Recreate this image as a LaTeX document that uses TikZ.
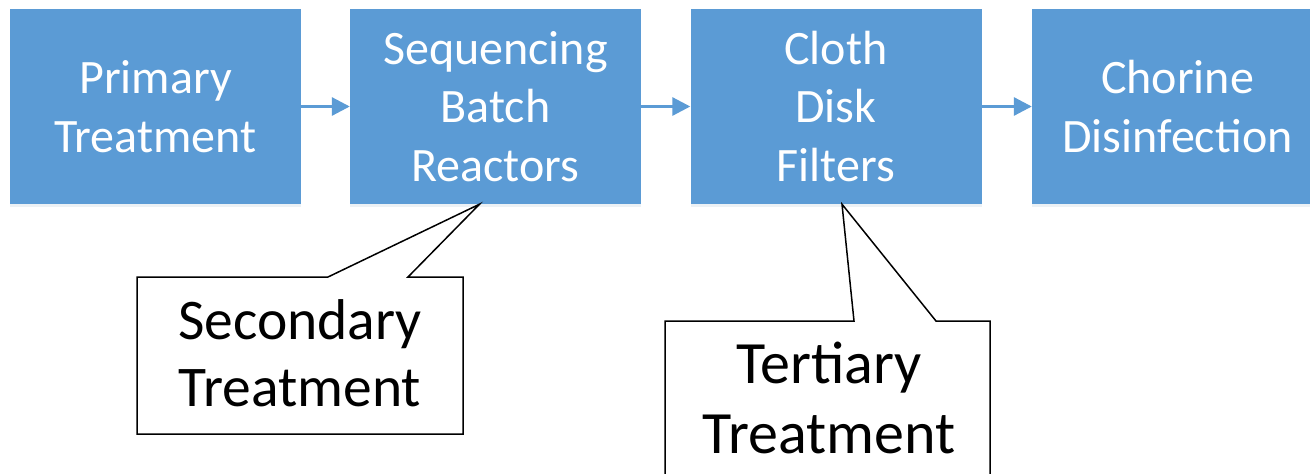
\documentclass[tikz,border=0pt]{standalone}
\usepackage{fontspec}
\setmainfont{Carlito}
\usetikzlibrary{arrows.meta,calc,shadows}
\definecolor{boxblue}{HTML}{5B9BD5}
\begin{document}
\begin{tikzpicture}[x=1pt,y=-1pt,
  procbox/.style={fill=boxblue, minimum width=291pt, minimum height=195pt, inner sep=0pt,
    text=white, align=center, font=\fontsize{48}{58.6}\selectfont,
    drop shadow={shadow xshift=0pt, shadow yshift=-3pt, opacity=0.12, fill=boxblue!60!gray}},
  flow/.style={draw=boxblue, line width=3pt, -{Triangle[length=18pt,width=18pt]}},
  callout/.style={draw=black, fill=white, line width=1.5pt, line join=miter},
  calltextA/.style={font=\fontsize{57.5}{67}\selectfont, align=center, anchor=base, inner sep=0pt},
  calltextB/.style={font=\fontsize{60}{70}\selectfont, align=center, anchor=base, inner sep=0pt}]
\useasboundingbox (0,0) rectangle (1310,474);
\clip (0,0) rectangle (1310,474);
\fill[white] (0,0) rectangle (1310,474);
\node[procbox] (b1) at (155.5,106.5) {Primary\\Treatment};
\node[procbox] (b2) at (495.5,106.5) {Sequencing\\Batch\\Reactors};
\node[procbox] (b3) at (836,106.5) {Cloth\\Disk\\Filters};
\node[procbox] (b4) at (1177.5,106.5) {Chorine\\Disinfection};
\draw[flow] (b1) -- (b2);
\draw[flow] (b2) -- (b3);
\draw[flow] (b3) -- (b4);
% callout 1
\coordinate (t1) at ($(b2.south)+(-16,0)$);
\draw[callout] (137,277) -- (328,277) -- (t1) -- (408,277) -- (463,277) -- (463,434) -- (137,434) -- cycle;
\node[calltextA] (s1) at (300,406) {Secondary\\Treatment};
% callout 2
\coordinate (t2) at ($(b3.south)+(6,0)$);
\draw[callout] (665,321) -- (854,321) -- (t2) -- (936,321) -- (990,321) -- (990,490) -- (665,490) -- cycle;
\node[calltextB] (s2) at (829,453) {Tertiary\\Treatment};
\end{tikzpicture}
\end{document}
